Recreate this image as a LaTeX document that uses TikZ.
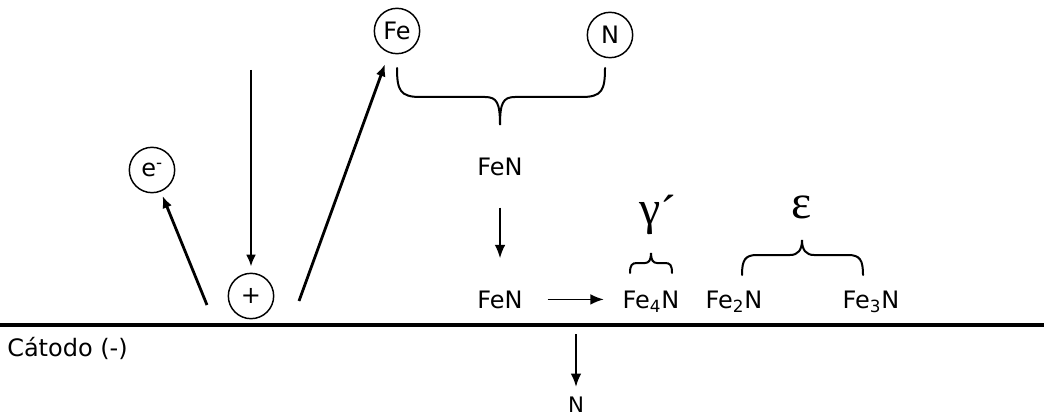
\documentclass[tikz,border=0pt]{standalone}
\usepackage{fontspec}
\setmainfont{DejaVu Sans}
\newfontfamily\grk{Liberation Serif}
\usetikzlibrary{arrows.meta,positioning,calc}

\tikzset{
  atom/.style={draw, circle, line width=1.1pt, minimum size=34pt, inner sep=0pt},
  chem/.style={inner sep=0pt, anchor=base},
  ion/.style={-{Latex[length=9pt,width=7.5pt]}, line width=2.1pt},
  react/.style={-{Latex[length=10pt,width=8pt]}, line width=1.3pt},
  brc/.style={line width=1.5pt, line cap=round},
}

\begin{document}
\begin{tikzpicture}[x=0.75pt, y=-0.75pt, every node/.style={font=\fontsize{18}{22}\selectfont}]
        \useasboundingbox (0,0) rectangle (1044,417);
        % particles above the cathode
        \node[atom] (fe) at (397,31) {Fe};
        \node[atom] (n) at (610,35) {N};
        \node[atom] (em) at (152,170) {e\textsuperscript{-}};
        \node[atom] (plus) at (251,296) {+};
        \coordinate (src) at (251,70);
        \coordinate (kickL) at (207,305);
        \coordinate (kickR) at (299,301);
        \draw[ion, shorten >=4.5pt] (src) -- (plus);
        \draw[ion, shorten >=3.5pt] (kickL) -- (em);
        \draw[ion, shorten >=9pt] (kickR) -- (fe);
        % Fe + N -> FeN
        \draw[brc] (397,68) .. controls (397,90) and (400,97) .. (420,97) -- (485,97)
          .. controls (497,97) and (500,103) .. (500,125)
          .. controls (500,103) and (503,97) .. (515,97) -- (582,97)
          .. controls (602,97) and (605,90) .. (605,68);
        \node[chem] (fen1) at (500,175) {FeN};
        \node[chem] (fen2) at (500,308) {FeN};
        \draw[react, shorten <=24pt, shorten >=24pt] (fen1) -- (fen2);
        % nitrides on the surface
        \node[chem] (fe4n) at (651,308) {Fe\textsubscript{4}N};
        \node[chem] (fe2n) at (734,308) {Fe\textsubscript{2}N};
        \node[chem] (fe3n) at (871,308) {Fe\textsubscript{3}N};
        \draw[react, shorten <=18.5pt, shorten >=14pt] (fen2.east) -- (fen2.east -| fe4n.west);
        \draw[brc] (630,273) .. controls (630,265) and (632,263) .. (637,263) -- (645,263)
          .. controls (649,263) and (651,260) .. (651,253)
          .. controls (651,260) and (653,263) .. (657,263) -- (665,263)
          .. controls (670,263) and (672,265) .. (672,273);
        \draw[brc] (742,275) .. controls (742,260) and (745,255) .. (757,255) -- (790,255)
          .. controls (798,255) and (802,250) .. (802,240)
          .. controls (802,250) and (806,255) .. (814,255) -- (848,255)
          .. controls (860,255) and (863,260) .. (863,275);
        \node[chem, font=\grk\fontsize{36}{40}\selectfont] (gam) at (658,224) {γ\raisebox{-3pt}{´}};
        \node[chem, font=\grk\fontsize{36}{40}\selectfont] (eps) at (802,218) {ε};
        % cathode
        \draw[line width=3pt] (0,325) -- (1044,325);
        \node[chem, anchor=base west] (cat) at (7,356) {Cátodo (-)};
        \coordinate (leak) at (576,334);
        \node[chem, font=\fontsize{16}{18}\selectfont] (nout) at (576,412) {N};
        \draw[react, shorten >=7pt] (leak) -- (nout);
      \end{tikzpicture}
\end{document}
